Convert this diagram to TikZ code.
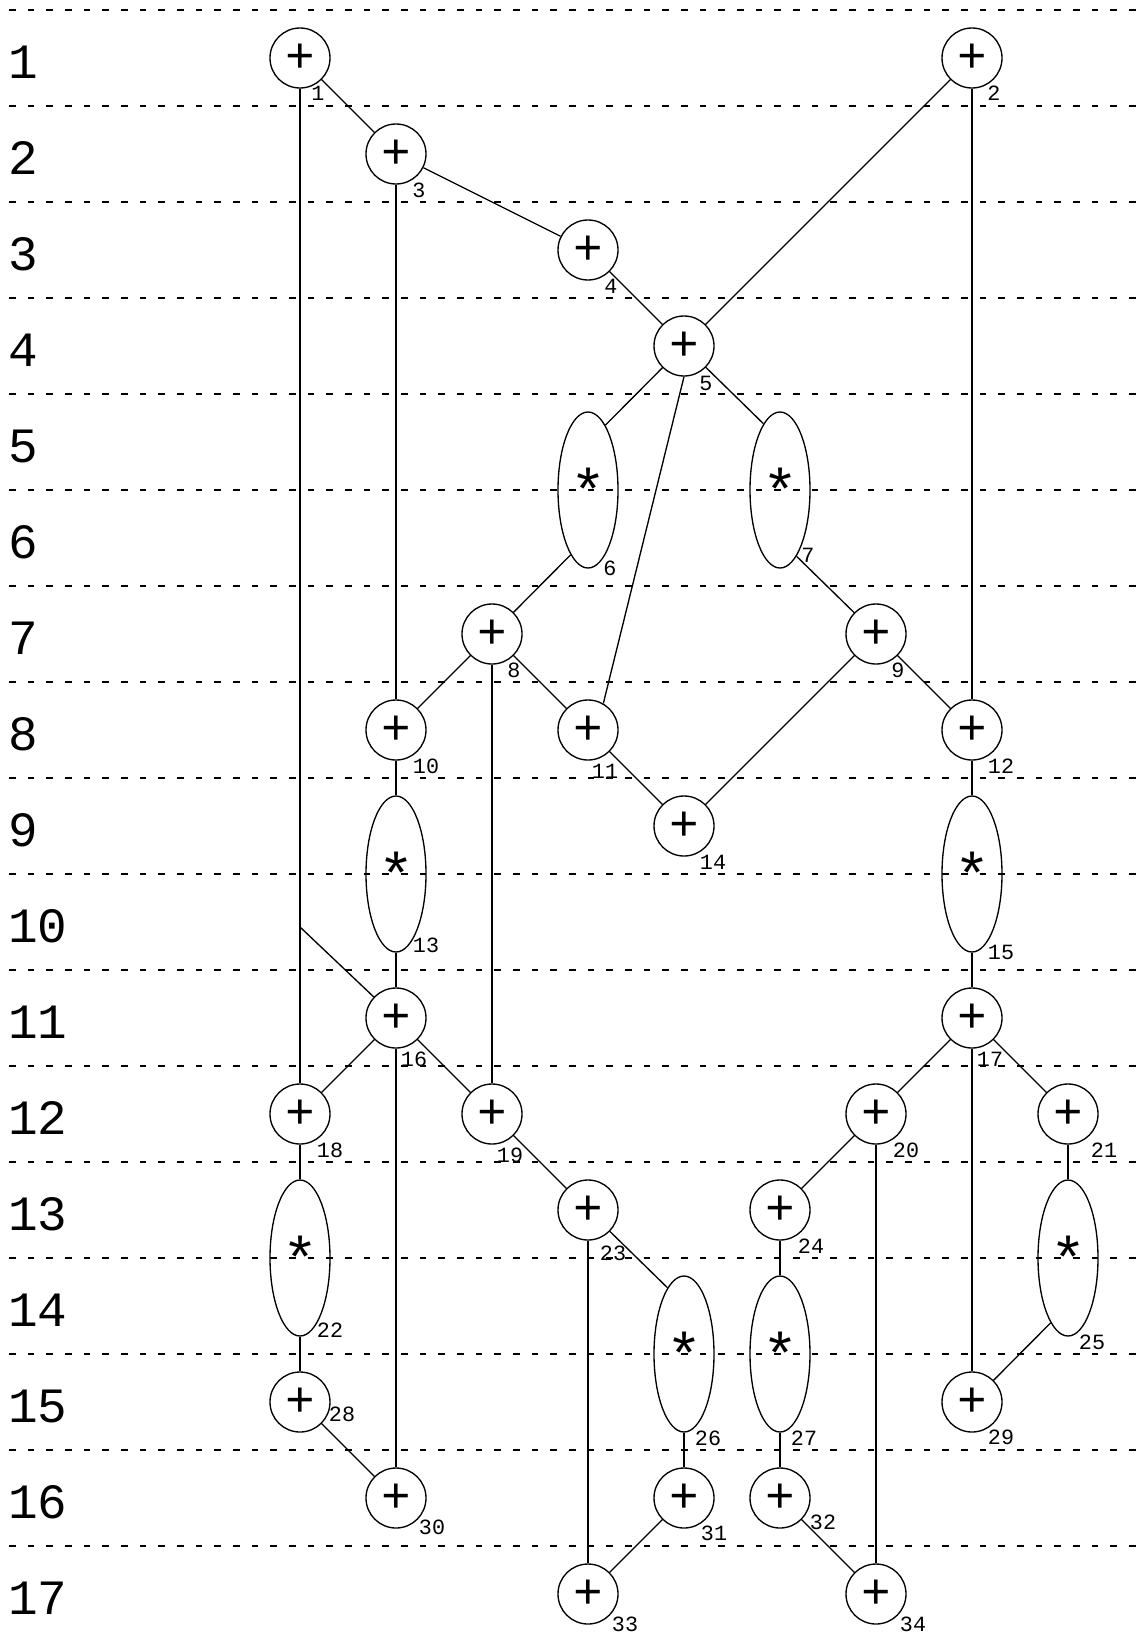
\documentclass[tikz,border=0pt]{standalone}
\usepackage{fontspec}
\setmonofont{Liberation Mono}
\usepackage{tikz}
\usetikzlibrary{shapes.geometric}
\tikzset{
  dfgadd/.style   = {draw, circle, minimum size=45pt, inner sep=0pt,
                     line width=1pt, font=\ttfamily\fontsize{37}{37}\selectfont},
  dfgmul/.style   = {draw, ellipse, minimum width=45pt, minimum height=117pt,
                     inner sep=0pt, line width=1pt,
                     font=\ttfamily\fontsize{45}{45}\selectfont},
  dfgedge/.style  = {line width=1pt},
  dfglbl/.style   = {inner sep=0pt, font=\ttfamily\fontsize{16.3}{16.3}\selectfont},
  dfgrow/.style   = {anchor=base west, inner sep=0pt,
                     font=\ttfamily\fontsize{37}{37}\selectfont},
  dfgrule/.style  = {line width=1pt, dash pattern=on 5pt off 9pt}
}
\begin{document}
\begin{tikzpicture}[x=0.75pt, y=0.75pt]
  \useasboundingbox (0,0) rectangle (1141,-1642);

  % control steps
  \foreach \k in {0,...,16}
    \draw[dfgrule] (9,{-10-96*\k}) -- (1141,{-10-96*\k});
  \foreach \r in {1,...,17}
    \node[dfgrow] (row\r) at (8,{-78-96*(\r-1)}) {\r};

  % operations
  \node[dfgadd] (n1)  at (300,-58)   {+};
  \node[dfgadd] (n2)  at (972,-58)   {+};
  \node[dfgadd] (n3)  at (396,-154)  {+};
  \node[dfgadd] (n4)  at (588,-250)  {+};
  \node[dfgadd] (n5)  at (684,-346)  {+};
  \node[dfgmul] (n6)  at (588,-490)  {*};
  \node[dfgmul] (n7)  at (780,-490)  {*};
  \node[dfgadd] (n8)  at (492,-634)  {+};
  \node[dfgadd] (n9)  at (876,-634)  {+};
  \node[dfgadd] (n10) at (396,-730)  {+};
  \node[dfgadd] (n11) at (588,-730)  {+};
  \node[dfgadd] (n12) at (972,-730)  {+};
  \node[dfgmul] (n13) at (396,-874)  {*};
  \node[dfgadd] (n14) at (684,-826)  {+};
  \node[dfgmul] (n15) at (972,-874)  {*};
  \node[dfgadd] (n16) at (396,-1018) {+};
  \node[dfgadd] (n17) at (972,-1018) {+};
  \node[dfgadd] (n18) at (300,-1114) {+};
  \node[dfgadd] (n19) at (492,-1114) {+};
  \node[dfgadd] (n20) at (876,-1114) {+};
  \node[dfgadd] (n21) at (1068,-1114) {+};
  \node[dfgmul] (n22) at (300,-1258) {*};
  \node[dfgadd] (n23) at (588,-1210) {+};
  \node[dfgadd] (n24) at (780,-1210) {+};
  \node[dfgmul] (n25) at (1068,-1258) {*};
  \node[dfgmul] (n26) at (684,-1354) {*};
  \node[dfgmul] (n27) at (780,-1354) {*};
  \node[dfgadd] (n28) at (300,-1402) {+};
  \node[dfgadd] (n29) at (972,-1402) {+};
  \node[dfgadd] (n30) at (396,-1498) {+};
  \node[dfgadd] (n31) at (684,-1498) {+};
  \node[dfgadd] (n32) at (780,-1498) {+};
  \node[dfgadd] (n33) at (588,-1594) {+};
  \node[dfgadd] (n34) at (876,-1594) {+};

  % operation numbers
  \node[dfglbl] (l1)  at ([shift={(18,-35)}]n1)  {1};
  \node[dfglbl] (l2)  at ([shift={(22,-35)}]n2)  {2};
  \node[dfglbl] (l3)  at ([shift={(23,-36)}]n3)  {3};
  \node[dfglbl] (l4)  at ([shift={(23,-36)}]n4)  {4};
  \node[dfglbl] (l5)  at ([shift={(22,-37)}]n5)  {5};
  \node[dfglbl] (l6)  at ([shift={(22,-78)}]n6)  {6};
  \node[dfglbl] (l7)  at ([shift={(28,-65)}]n7)  {7};
  \node[dfglbl] (l8)  at ([shift={(22,-36)}]n8)  {8};
  \node[dfglbl] (l9)  at ([shift={(22,-36)}]n9)  {9};
  \node[dfglbl] (l10) at ([shift={(30,-36)}]n10) {10};
  \node[dfglbl] (l11) at ([shift={(17,-41)}]n11) {11};
  \node[dfglbl] (l12) at ([shift={(29,-36)}]n12) {12};
  \node[dfglbl] (l13) at ([shift={(30,-71)}]n13) {13};
  \node[dfglbl] (l14) at ([shift={(29,-36)}]n14) {14};
  \node[dfglbl] (l15) at ([shift={(29,-78)}]n15) {15};
  \node[dfglbl] (l16) at ([shift={(18,-41)}]n16) {16};
  \node[dfglbl] (l17) at ([shift={(18,-41)}]n17) {17};
  \node[dfglbl] (l18) at ([shift={(30,-36)}]n18) {18};
  \node[dfglbl] (l19) at ([shift={(18,-41)}]n19) {19};
  \node[dfglbl] (l20) at ([shift={(30,-36)}]n20) {20};
  \node[dfglbl] (l21) at ([shift={(36,-36)}]n21) {21};
  \node[dfglbl] (l22) at ([shift={(30,-72)}]n22) {22};
  \node[dfglbl] (l23) at ([shift={(25,-43)}]n23) {23};
  \node[dfglbl] (l24) at ([shift={(31,-36)}]n24) {24};
  \node[dfglbl] (l25) at ([shift={(24,-84)}]n25) {25};
  \node[dfglbl] (l26) at ([shift={(24,-84)}]n26) {26};
  \node[dfglbl] (l27) at ([shift={(24,-84)}]n27) {27};
  \node[dfglbl] (l28) at ([shift={(42,-12)}]n28) {28};
  \node[dfglbl] (l29) at ([shift={(29,-35)}]n29) {29};
  \node[dfglbl] (l30) at ([shift={(36,-29)}]n30) {30};
  \node[dfglbl] (l31) at ([shift={(30,-35)}]n31) {31};
  \node[dfglbl] (l32) at ([shift={(43,-24)}]n32) {32};
  \node[dfglbl] (l33) at ([shift={(37,-30)}]n33) {33};
  \node[dfglbl] (l34) at ([shift={(37,-30)}]n34) {34};

  % data dependences
  \coordinate (b1) at (300,-927);
  \draw[dfgedge] (n1) -- (n3);
  \draw[dfgedge] (n1) -- (n18);
  \draw[dfgedge] (n1) -- (b1) -- (n16);
  \draw[dfgedge] (n2) -- (n5);
  \draw[dfgedge] (n2) -- (n12);
  \draw[dfgedge] (n3) -- (n4);
  \draw[dfgedge] (n3) -- (n10);
  \draw[dfgedge] (n4) -- (n5);
  \draw[dfgedge] (n5) -- (n6.75.5);
  \draw[dfgedge] (n5) -- (n7.104.5);
  \draw[dfgedge] (n5.south) -- (n11.60);
  \draw[dfgedge] (n6.255.5) -- (n8);
  \draw[dfgedge] (n7.284.5) -- (n9);
  \draw[dfgedge] (n8) -- (n10);
  \draw[dfgedge] (n8) -- (n11);
  \draw[dfgedge] (n8) -- (n19);
  \draw[dfgedge] (n9) -- (n12);
  \draw[dfgedge] (n9) -- (n14);
  \draw[dfgedge] (n11) -- (n14);
  \draw[dfgedge] (n10) -- (n13);
  \draw[dfgedge] (n13) -- (n16);
  \draw[dfgedge] (n12) -- (n15);
  \draw[dfgedge] (n15) -- (n17);
  \draw[dfgedge] (n16) -- (n18);
  \draw[dfgedge] (n16) -- (n19);
  \draw[dfgedge] (n16) -- (n30);
  \draw[dfgedge] (n17) -- (n20);
  \draw[dfgedge] (n17) -- (n21);
  \draw[dfgedge] (n17) -- (n29);
  \draw[dfgedge] (n18) -- (n22);
  \draw[dfgedge] (n22) -- (n28);
  \draw[dfgedge] (n19) -- (n23);
  \draw[dfgedge] (n20) -- (n24);
  \draw[dfgedge] (n20) -- (n34);
  \draw[dfgedge] (n21) -- (n25);
  \draw[dfgedge] (n25.255.5) -- (n29);
  \draw[dfgedge] (n23) -- (n26.104.5);
  \draw[dfgedge] (n23) -- (n33);
  \draw[dfgedge] (n24) -- (n27);
  \draw[dfgedge] (n26) -- (n31);
  \draw[dfgedge] (n27) -- (n32);
  \draw[dfgedge] (n28) -- (n30);
  \draw[dfgedge] (n31) -- (n33);
  \draw[dfgedge] (n32) -- (n34);
\end{tikzpicture}
\end{document}
